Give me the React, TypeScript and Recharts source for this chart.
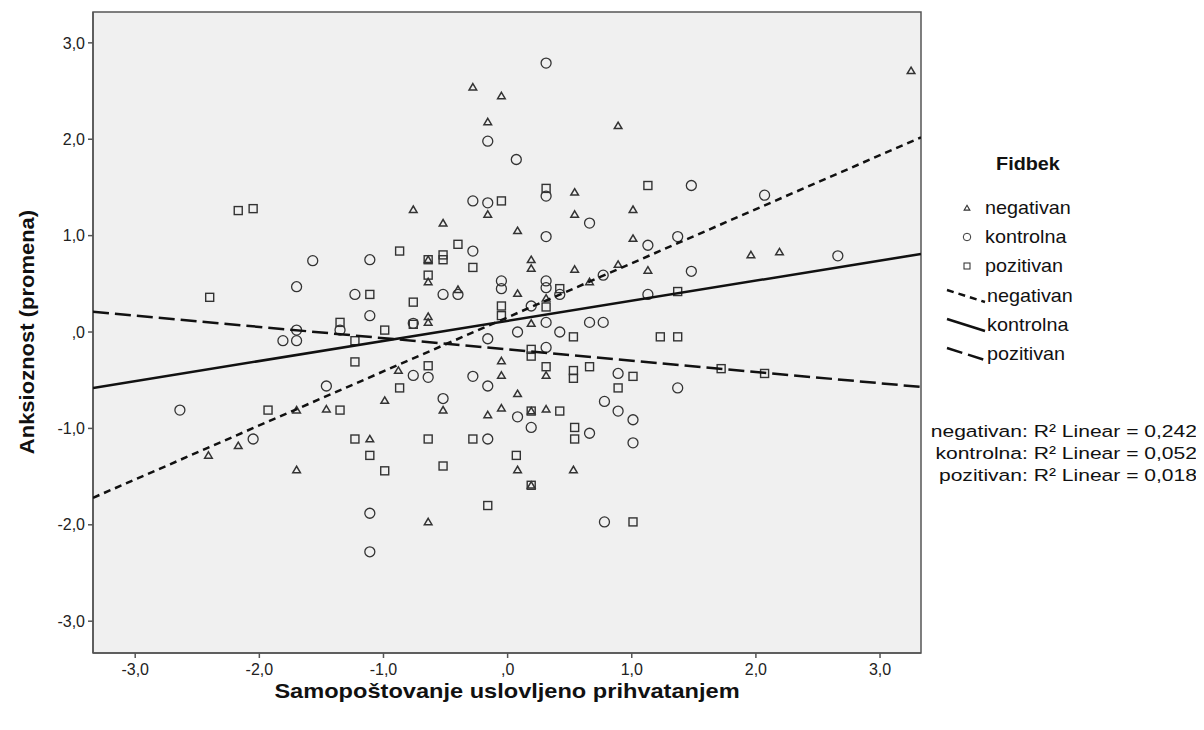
import React from "react";
import { ScatterChart, Scatter, XAxis, YAxis, ReferenceArea } from "recharts";

const FONT = '"Liberation Sans", Arial, sans-serif';
const W = 1196;
const H = 722;

// axis setup
const xDomain = [-3.34, 3.33];
const yDomain = [-3.33, 3.32];
const xTicks = [-3, -2, -1, 0, 1, 2, 3];
const xTickLabels = ["-3,0", "-2,0", "-1,0", ",0", "1,0", "2,0", "3,0"];
const yTicks = [-3, -2, -1, 0, 1, 2, 3];
const yTickLabels = ["-3,0", "-2,0", "-1,0", ",0", "1,0", "2,0", "3,0"];

const xTitle = "Samopoštovanje uslovljeno prihvatanjem";
const yTitle = "Anksioznost (promena)";
const legendTitle = "Fidbek";
const groups = ["negativan", "kontrolna", "pozitivan"];
const rSquared = ["0,242", "0,052", "0,018"];

// Fidbek = negativan
const negativan = [
  { x: -0.28, y: 2.54 }, { x: -0.05, y: 2.45 }, { x: -0.16, y: 2.18 }, { x: 0.89, y: 2.14 },
  { x: 3.25, y: 2.71 }, { x: -0.76, y: 1.27 }, { x: -0.52, y: 1.13 }, { x: 0.54, y: 1.45 },
  { x: 0.54, y: 1.22 }, { x: 1.01, y: 1.27 }, { x: -0.16, y: 1.22 }, { x: 0.08, y: 1.05 },
  { x: 1.01, y: 0.97 }, { x: 0.19, y: 0.75 }, { x: 0.19, y: 0.66 }, { x: 0.54, y: 0.65 },
  { x: 1.13, y: 0.64 }, { x: 0.89, y: 0.7 }, { x: 0.66, y: 0.52 }, { x: 0.08, y: 0.4 },
  { x: -0.4, y: 0.44 }, { x: 0.31, y: 0.35 }, { x: -0.64, y: 0.52 }, { x: -0.64, y: 0.75 },
  { x: -0.64, y: 0.16 }, { x: -0.64, y: 0.1 }, { x: 0.19, y: 0.09 }, { x: 1.96, y: 0.8 },
  { x: 2.19, y: 0.83 }, { x: -0.88, y: -0.4 }, { x: -0.99, y: -0.71 }, { x: -0.05, y: -0.3 },
  { x: -0.05, y: -0.45 }, { x: 0.31, y: -0.45 }, { x: 0.08, y: -0.64 }, { x: -0.52, y: -0.81 },
  { x: -0.16, y: -0.86 }, { x: -0.05, y: -0.79 }, { x: 0.31, y: -0.8 }, { x: 0.08, y: -1.43 },
  { x: 0.53, y: -1.43 }, { x: -0.64, y: -1.97 }, { x: -1.7, y: -0.81 }, { x: -1.46, y: -0.8 },
  { x: -1.11, y: -1.11 }, { x: -1.7, y: -1.43 }, { x: -2.41, y: -1.28 }, { x: -2.17, y: -1.18 },
  { x: 0.19, y: -0.82 }, { x: 0.19, y: -1.59 },
];

// Fidbek = kontrolna
const kontrolna = [
  { x: 0.31, y: 2.79 }, { x: -0.16, y: 1.98 }, { x: 0.07, y: 1.79 }, { x: -0.28, y: 1.36 },
  { x: -0.16, y: 1.34 }, { x: 0.31, y: 1.41 }, { x: 0.66, y: 1.13 }, { x: 1.48, y: 1.52 },
  { x: 2.07, y: 1.42 }, { x: 1.37, y: 0.99 }, { x: 1.48, y: 0.63 }, { x: 2.66, y: 0.79 },
  { x: 1.13, y: 0.9 }, { x: 1.13, y: 0.39 }, { x: -1.57, y: 0.74 }, { x: -1.11, y: 0.75 },
  { x: -1.7, y: 0.47 }, { x: -1.23, y: 0.39 }, { x: -1.11, y: 0.17 }, { x: -1.7, y: 0.02 },
  { x: -1.81, y: -0.09 }, { x: -1.7, y: -0.09 }, { x: -1.35, y: 0.02 }, { x: -2.64, y: -0.81 },
  { x: -2.05, y: -1.11 }, { x: -1.46, y: -0.56 }, { x: -1.11, y: -1.88 }, { x: -1.11, y: -2.28 },
  { x: -0.76, y: 0.09 }, { x: -0.76, y: -0.45 }, { x: -0.64, y: -0.47 }, { x: -0.52, y: -0.69 },
  { x: 0.31, y: 0.99 }, { x: -0.28, y: 0.84 }, { x: 0.77, y: 0.59 }, { x: -0.05, y: 0.53 },
  { x: -0.05, y: 0.45 }, { x: 0.31, y: 0.53 }, { x: 0.31, y: 0.46 }, { x: -0.52, y: 0.39 },
  { x: -0.4, y: 0.39 }, { x: 0.42, y: 0.39 }, { x: 0.19, y: 0.27 }, { x: 0.31, y: 0.1 },
  { x: 0.66, y: 0.1 }, { x: 0.77, y: 0.1 }, { x: 0.08, y: 0.0 }, { x: 0.42, y: 0.0 },
  { x: -0.16, y: -0.07 }, { x: 0.31, y: -0.16 }, { x: 0.89, y: -0.43 }, { x: -0.28, y: -0.46 },
  { x: -0.16, y: -0.56 }, { x: 0.78, y: -0.72 }, { x: 0.89, y: -0.82 }, { x: 1.01, y: -0.91 },
  { x: 0.08, y: -0.88 }, { x: 0.19, y: -0.99 }, { x: 0.66, y: -1.05 }, { x: 1.01, y: -1.15 },
  { x: -0.16, y: -1.11 }, { x: 0.78, y: -1.97 }, { x: 1.37, y: -0.58 },
];

// Fidbek = pozitivan
const pozitivan = [
  { x: -2.17, y: 1.26 }, { x: -2.05, y: 1.28 }, { x: -2.4, y: 0.36 }, { x: -1.11, y: 0.39 },
  { x: -1.35, y: 0.1 }, { x: -0.99, y: 0.02 }, { x: -1.23, y: -0.09 }, { x: -1.23, y: -0.31 },
  { x: -1.93, y: -0.81 }, { x: -1.35, y: -0.81 }, { x: -1.23, y: -1.11 }, { x: -1.11, y: -1.28 },
  { x: -0.99, y: -1.44 }, { x: -0.87, y: 0.84 }, { x: -0.64, y: 0.75 }, { x: -0.64, y: 0.59 },
  { x: -0.76, y: 0.31 }, { x: -0.76, y: 0.08 }, { x: -0.64, y: -0.35 }, { x: 0.31, y: 1.49 },
  { x: 1.13, y: 1.52 }, { x: -0.05, y: 1.36 }, { x: -0.4, y: 0.91 }, { x: -0.52, y: 0.8 },
  { x: -0.52, y: 0.75 }, { x: -0.28, y: 0.67 }, { x: 0.42, y: 0.45 }, { x: -0.05, y: 0.27 },
  { x: -0.05, y: 0.17 }, { x: 0.31, y: 0.26 }, { x: 0.53, y: -0.05 }, { x: 1.23, y: -0.05 },
  { x: 1.37, y: -0.05 }, { x: 1.37, y: 0.42 }, { x: 0.19, y: -0.18 }, { x: 0.19, y: -0.25 },
  { x: 0.31, y: -0.36 }, { x: 0.53, y: -0.4 }, { x: 0.53, y: -0.48 }, { x: 0.66, y: -0.36 },
  { x: 1.01, y: -0.46 }, { x: -0.87, y: -0.58 }, { x: 0.89, y: -0.58 }, { x: 0.19, y: -0.82 },
  { x: 0.42, y: -0.82 }, { x: 0.54, y: -0.99 }, { x: 0.54, y: -1.11 }, { x: -0.64, y: -1.11 },
  { x: -0.28, y: -1.11 }, { x: 0.07, y: -1.28 }, { x: -0.52, y: -1.39 }, { x: 0.19, y: -1.59 },
  { x: -0.16, y: -1.8 }, { x: 1.01, y: -1.97 }, { x: 1.72, y: -0.38 }, { x: 2.07, y: -0.43 },
];

// linear fit lines, end points at the axis limits
const fitNegativan = [{ x: -3.34, y: -1.72 }, { x: 3.33, y: 2.02 }];
const fitKontrolna = [{ x: -3.34, y: -0.58 }, { x: 3.33, y: 0.81 }];
const fitPozitivan = [{ x: -3.34, y: 0.21 }, { x: 3.33, y: -0.57 }];

const MARK = "#333";

const TriangleMark = (p: any) => (
  <path
    d={`M${p.cx},${p.cy - 3.6} L${p.cx + 3.8},${p.cy + 2.8} L${p.cx - 3.8},${p.cy + 2.8} Z`}
    fill="none"
    stroke={MARK}
    strokeWidth={1.5}
  />
);
const CircleMark = (p: any) => (
  <circle cx={p.cx} cy={p.cy} r={5} fill="none" stroke={MARK} strokeWidth={1.3} />
);
const SquareMark = (p: any) => (
  <rect x={p.cx - 4} y={p.cy - 4} width={8} height={8} fill="none" stroke={MARK} strokeWidth={1.4} />
);
const NoMark = () => <g />;

const fmtX = (v: number) => xTickLabels[xTicks.indexOf(v)] ?? "";
const fmtY = (v: number) => yTickLabels[yTicks.indexOf(v)] ?? "";

const lineStyles = [
  { strokeDasharray: "7 5" },
  { strokeDasharray: undefined },
  { strokeDasharray: "16 6" },
];

export default function App() {
  const axisStroke = { stroke: "#555", strokeWidth: 1.5 };
  const tickStyle = { fill: "#222", fontSize: 16, fontFamily: FONT };
  const legendMarks = [TriangleMark, CircleMark, SquareMark];
  return (
    <div style={{ position: "relative", width: W, height: H, fontFamily: FONT }}>
      <ScatterChart width={W} height={H} margin={{ top: 4, right: 283, bottom: 0, left: 0 }}>
        <XAxis
          type="number"
          dataKey="x"
          domain={xDomain}
          ticks={xTicks}
          tickFormatter={fmtX}
          allowDataOverflow
          interval={0}
          height={77}
          tickSize={5}
          tickMargin={6}
          axisLine={axisStroke}
          tickLine={axisStroke}
          tick={tickStyle}
        />
        <YAxis
          type="number"
          dataKey="y"
          domain={yDomain}
          ticks={yTicks}
          tickFormatter={fmtY}
          allowDataOverflow
          interval={0}
          width={85}
          tickSize={5}
          tickMargin={3}
          axisLine={axisStroke}
          tickLine={axisStroke}
          tick={tickStyle}
        />
        <ReferenceArea
          x1={xDomain[0]}
          x2={xDomain[1]}
          y1={yDomain[0]}
          y2={yDomain[1]}
          fill="#f0f0f0"
          fillOpacity={1}
          stroke="#555"
          strokeWidth={1.5}
        />
        <Scatter data={negativan} shape={TriangleMark} isAnimationActive={false} />
        <Scatter data={kontrolna} shape={CircleMark} isAnimationActive={false} />
        <Scatter data={pozitivan} shape={SquareMark} isAnimationActive={false} />
        <Scatter
          data={fitNegativan}
          shape={NoMark}
          line={{ stroke: "#111", strokeWidth: 2.5, strokeDasharray: "7 5" }}
          isAnimationActive={false}
        />
        <Scatter
          data={fitKontrolna}
          shape={NoMark}
          line={{ stroke: "#111", strokeWidth: 2.5 }}
          isAnimationActive={false}
        />
        <Scatter
          data={fitPozitivan}
          shape={NoMark}
          line={{ stroke: "#111", strokeWidth: 2.5, strokeDasharray: "16 6" }}
          isAnimationActive={false}
        />
      </ScatterChart>

      <svg
        width={W}
        height={H}
        style={{ position: "absolute", left: 0, top: 0, pointerEvents: "none", fontFamily: FONT }}
      >
        {/* axis titles */}
        <text
          transform={`translate(499,690) scale(1.18,1)`}
          textAnchor="middle"
          fontSize={20}
          fontWeight="bold"
          fill="#111"
        >
          {xTitle}
        </text>
        <text
          transform={`translate(19,324) rotate(-90) scale(1.1,1)`}
          textAnchor="middle"
          dominantBaseline="central"
          fontSize={20}
          fontWeight="bold"
          fill="#111"
        >
          {yTitle}
        </text>

        {/* legend */}
        <text
          transform={`translate(1020,162) scale(1.1,1)`}
          textAnchor="middle"
          fontSize={18}
          fontWeight="bold"
          fill="#111"
        >
          {legendTitle}
        </text>
        {groups.map((g, i) => {
          const cy = 200 + i * 29;
          const Mark = legendMarks[i];
          return (
            <g key={`m-${g}`}>
              <g transform={`translate(959,${cy}) scale(0.75)`}>
                <Mark cx={0} cy={0} />
              </g>
              <text transform={`translate(977,${cy + 6}) scale(1.1,1)`} fontSize={18} fill="#111">
                {g}
              </text>
            </g>
          );
        })}
        {groups.map((g, i) => {
          const cy = 288 + i * 29;
          return (
            <g key={`l-${g}`}>
              <line
                x1={939}
                y1={cy - 6}
                x2={977}
                y2={cy + 6}
                stroke="#111"
                strokeWidth={2.5}
                strokeDasharray={lineStyles[i].strokeDasharray}
              />
              <text transform={`translate(979,${cy + 6}) scale(1.1,1)`} fontSize={18} fill="#111">
                {g}
              </text>
            </g>
          );
        })}
        {groups.map((g, i) => (
          <text
            key={`r-${g}`}
            transform={`translate(1189,${429 + i * 22}) scale(1.24,1)`}
            textAnchor="end"
            fontSize={17}
            fill="#111"
          >
            {`${g}: R² Linear = ${rSquared[i]}`}
          </text>
        ))}
      </svg>
    </div>
  );
}
